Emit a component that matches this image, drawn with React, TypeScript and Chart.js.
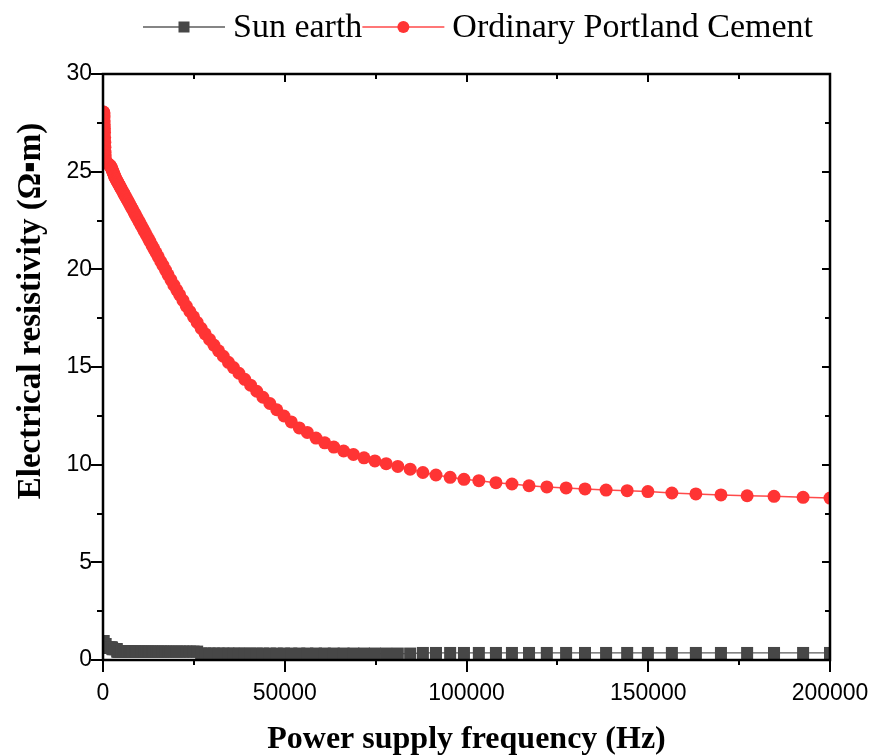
import React, { useEffect, useRef } from 'react';
import { Chart, registerables } from 'chart.js';

Chart.register(...registerables);

// ---------- data ----------
const frequencyHz = [
  100, 150, 200, 250, 300, 330, 360, 400, 430, 460,
  500, 530, 560, 600, 700, 800, 1000,
  1200, 1400, 1600, 1800, 2000, 2100, 2200, 2300, 2400, 2500,
  2600, 2700, 2800, 2900, 3100, 3200, 3300, 3500, 3600, 3800,
  3900, 4100, 4300, 4400, 4600, 4800, 5000, 5200, 5500, 5700,
  5900, 6200, 6400, 6700, 7000, 7300, 7600, 7900, 8200, 8600,
  8900, 9300, 9700, 10100, 10500, 11000, 11400, 11900, 12400, 12900,
  13500, 14000, 14600, 15200, 15900, 16500, 17200, 17900, 18700, 19500,
  20300, 21100, 22000, 22900, 23900, 24900, 25900, 27000, 28100, 29300,
  30500, 31800, 33100, 34500, 35900, 37400, 39000, 40600, 42300, 44000,
  45900, 47800, 49800, 51800, 54000, 56200, 58600, 61000, 63500, 66200,
  68900, 71800, 74800, 77900, 81100, 84500, 88000, 91600, 95500, 99300,
  103400, 108100, 112500, 117200, 122100, 127400, 132600, 138400, 144200, 149900,
  156500, 163100, 170000, 177200, 184600, 192600, 200000,
];

const opcResistivity = [
  28.05, 28.05, 28.0, 27.95, 27.8, 27.6, 27.4, 27.2, 27.0, 26.75,
  26.5, 26.25, 26.0, 25.8, 25.6, 25.5, 25.45,
  25.42, 25.4, 25.37, 25.34, 25.3, 25.27, 25.23, 25.19, 25.15, 25.11,
  25.06, 25.01, 24.96, 24.91, 24.82, 24.77, 24.72, 24.65, 24.61, 24.54,
  24.51, 24.44, 24.37, 24.34, 24.27, 24.2, 24.13, 24.06, 23.96, 23.89,
  23.82, 23.72, 23.65, 23.55, 23.45, 23.35, 23.24, 23.14, 23.04, 22.9,
  22.8, 22.66, 22.52, 22.39, 22.25, 22.08, 21.94, 21.77, 21.6, 21.43,
  21.22, 21.05, 20.85, 20.64, 20.4, 20.2, 19.96, 19.72, 19.46, 19.19,
  18.94, 18.69, 18.41, 18.12, 17.84, 17.57, 17.28, 16.98, 16.7, 16.41,
  16.12, 15.83, 15.55, 15.24, 14.97, 14.68, 14.37, 14.07, 13.76, 13.45,
  13.13, 12.81, 12.49, 12.19, 11.88, 11.65, 11.36, 11.12, 10.9, 10.7,
  10.52, 10.35, 10.19, 10.05, 9.91, 9.77, 9.6, 9.47, 9.35, 9.25,
  9.18, 9.08, 9.01, 8.92, 8.86, 8.81, 8.76, 8.7, 8.67, 8.62,
  8.55, 8.5, 8.45, 8.41, 8.38, 8.33, 8.29,
];

const sunEarthResistivity = [
  0.97, 0.97, 0.82, 0.82, 0.82, 0.82, 0.82, 0.82, 0.82, 0.82,
  0.82, 0.82, 0.82, 0.82, 0.82, 0.63, 0.63,
  0.63, 0.63, 0.63, 0.63, 0.63, 0.63, 0.63, 0.63, 0.63, 0.63,
  0.56, 0.56, 0.56, 0.56, 0.56, 0.56, 0.56, 0.56, 0.56, 0.56,
  0.43, 0.43, 0.43, 0.43, 0.43, 0.43, 0.43, 0.43, 0.43, 0.43,
  0.43, 0.43, 0.43, 0.43, 0.43, 0.43, 0.43, 0.43, 0.43, 0.43,
  0.43, 0.43, 0.43, 0.43, 0.43, 0.43, 0.43, 0.43, 0.43, 0.43,
  0.43, 0.43, 0.43, 0.43, 0.43, 0.43, 0.43, 0.43, 0.43, 0.43,
  0.43, 0.43, 0.43, 0.43, 0.43, 0.43, 0.43, 0.33, 0.33, 0.33,
  0.33, 0.33, 0.33, 0.33, 0.33, 0.33, 0.33, 0.33, 0.33, 0.33,
  0.33, 0.33, 0.33, 0.33, 0.33, 0.33, 0.33, 0.33, 0.33, 0.33,
  0.33, 0.33, 0.33, 0.33, 0.33, 0.33, 0.36, 0.36, 0.36, 0.36,
  0.36, 0.36, 0.36, 0.36, 0.36, 0.36, 0.36, 0.36, 0.36, 0.36,
  0.36, 0.36, 0.36, 0.36, 0.36, 0.36, 0.36,
];

const seriesNames = ['Sun earth', 'Ordinary Portland Cement'];
const xRange = [0, 200000];
const xMajorStep = 50000;
const xMinorStep = 25000;
const yRange = [0, 30];
const yMajorStep = 5;
const yMinorStep = 2.5;
const xTitle = 'Power supply frequency (Hz)';
const yTitle = 'Electrical resistivity (\u03A9\u25AAm)';

// ---------- styles ----------
const SUN_MARKER = '#474747';
const SUN_LINE = '#5c5c5c';
const OPC_MARKER = '#ff3434';
const OPC_LINE = '#ff4a4a';
const SERIF = '"Liberation Serif", "Times New Roman", serif';
const SANS = '"Liberation Sans", Arial, sans-serif';

const framePlugin = {
  id: 'originFrame',
  afterDatasetsDraw(chart: any) {
    const { ctx, chartArea: a, scales } = chart;
    const xs = scales.x;
    const ys = scales.y;
    ctx.save();
    ctx.strokeStyle = '#000';
    ctx.lineWidth = 2;
    const seg = (x1: number, y1: number, x2: number, y2: number) => {
      ctx.beginPath();
      ctx.moveTo(x1, y1);
      ctx.lineTo(x2, y2);
      ctx.stroke();
    };
    for (let v = yRange[0]; v <= yRange[1] + 1e-9; v += yMinorStep) {
      const py = Math.round(ys.getPixelForValue(v));
      const major = Math.abs(v / yMajorStep - Math.round(v / yMajorStep)) < 1e-6;
      seg(a.left, py, a.left - (major ? 12 : 6), py);
      seg(a.right, py, a.right - (major ? 8 : 5), py);
    }
    for (let v = xRange[0]; v <= xRange[1] + 1e-9; v += xMinorStep) {
      const px = Math.round(xs.getPixelForValue(v));
      const major = Math.abs(v / xMajorStep - Math.round(v / xMajorStep)) < 1e-6;
      seg(px, a.bottom, px, a.bottom + (major ? 12 : 5));
      seg(px, a.top, px, a.top + (major ? 8 : 5));
    }
    ctx.lineWidth = 2.5;
    ctx.strokeRect(a.left, a.top, a.right - a.left, a.bottom - a.top);
    ctx.restore();
  },
};

const decorPlugin = {
  id: 'decor',
  afterDraw(chart: any) {
    const { ctx } = chart;
    ctx.save();
    // y axis title
    ctx.fillStyle = '#000';
    ctx.font = `bold 33px ${SERIF}`;
    ctx.textAlign = 'center';
    ctx.textBaseline = 'middle';
    ctx.translate(31, 311);
    ctx.rotate(-Math.PI / 2);
    ctx.fillText(yTitle, 0, 0);
    ctx.restore();

    // legend
    ctx.save();
    ctx.font = `34px ${SERIF}`;
    ctx.textBaseline = 'middle';
    ctx.textAlign = 'left';
    const yMid = 27;
    let x = 143;
    chart.data.datasets.forEach((ds: any) => {
      const len = 82;
      ctx.strokeStyle = ds.borderColor;
      ctx.lineWidth = 1.6;
      ctx.beginPath();
      ctx.moveTo(x, yMid);
      ctx.lineTo(x + len, yMid);
      ctx.stroke();
      const cx = x + len / 2;
      ctx.fillStyle = ds.pointBackgroundColor;
      if (ds.pointStyle === 'rect') {
        ctx.fillRect(cx - 5.5, yMid - 5.5, 11, 11);
      } else {
        ctx.beginPath();
        ctx.arc(cx, yMid, 6, 0, Math.PI * 2);
        ctx.fill();
      }
      ctx.fillStyle = '#000';
      const tx = x + len + 8;
      ctx.fillText(ds.label, tx, yMid + 1);
      x = tx + ctx.measureText(ds.label).width;
    });
    ctx.restore();
  },
};

export default function App() {
  const ref = useRef<HTMLCanvasElement | null>(null);

  useEffect(() => {
    if (!ref.current) return;
    const sunPts = frequencyHz.map((f, i) => ({ x: f, y: sunEarthResistivity[i] }));
    const opcPts = frequencyHz.map((f, i) => ({ x: f, y: opcResistivity[i] }));

    const chart = new Chart(ref.current, {
      type: 'line',
      data: {
        datasets: [
          {
            label: seriesNames[0],
            data: sunPts,
            borderColor: SUN_LINE,
            borderWidth: 1.2,
            pointStyle: 'rect',
            pointRadius: 8.5,
            pointBorderWidth: 0,
            pointBackgroundColor: SUN_MARKER,
            pointBorderColor: SUN_MARKER,
            clip: 0,
            tension: 0,
          },
          {
            label: seriesNames[1],
            data: opcPts,
            borderColor: OPC_LINE,
            borderWidth: 1.5,
            pointStyle: 'circle',
            pointRadius: 6.5,
            pointBorderWidth: 0,
            pointBackgroundColor: OPC_MARKER,
            pointBorderColor: OPC_MARKER,
            clip: 0,
            tension: 0,
          },
        ],
      },
      options: {
        responsive: false,
        animation: false,
        events: [],
        layout: { padding: { top: 74, right: 45, bottom: 0, left: 0 } },
        plugins: {
          legend: { display: false },
          tooltip: { enabled: false },
        },
        scales: {
          x: {
            type: 'linear',
            min: xRange[0],
            max: xRange[1],
            afterFit: (s: any) => {
              s.height = 96;
            },
            grid: { display: false, drawTicks: true, tickLength: 20 },
            border: { display: false },
            ticks: {
              stepSize: xMajorStep,
              color: '#000',
              padding: 0,
              maxRotation: 0,
              autoSkip: false,
              font: { family: SANS, size: 23 },
              callback: (v: any) => String(v),
            },
            title: {
              display: true,
              text: xTitle,
              color: '#000',
              font: { family: SERIF, size: 32, weight: 'bold', lineHeight: 1 },
              padding: { top: 0, bottom: 0 },
            },
          },
          y: {
            type: 'linear',
            min: yRange[0],
            max: yRange[1],
            afterFit: (s: any) => {
              s.width = 103;
            },
            grid: { display: false, drawTicks: true, tickLength: 11 },
            border: { display: false },
            ticks: {
              stepSize: yMajorStep,
              color: '#000',
              padding: 0,
              font: { family: SANS, size: 23 },
              callback: (v: any) => String(v),
            },
          },
        },
      },
      plugins: [framePlugin, decorPlugin],
    } as any);

    return () => chart.destroy();
  }, []);

  return (
    <div style={{ position: 'fixed', left: 0, top: 0, width: 875, height: 756, background: '#fff' }}>
      <canvas ref={ref} width={875} height={756} />
    </div>
  );
}
